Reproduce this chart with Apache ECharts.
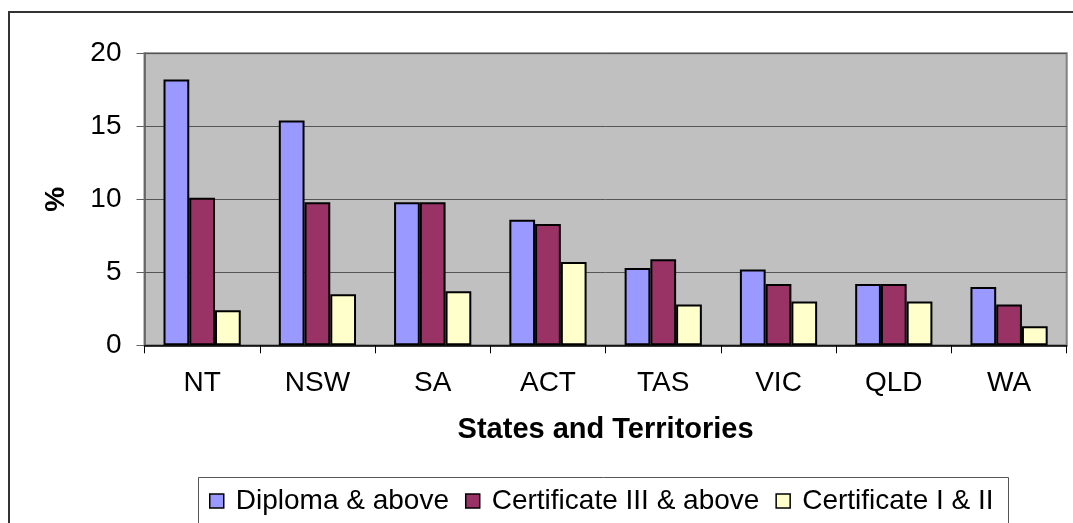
<!DOCTYPE html>
<html>
<head>
<meta charset="utf-8">
<script src="https://cdn.jsdelivr.net/npm/echarts@6/dist/echarts.min.js"></script>
<style>
html,body{margin:0;padding:0;background:#fff;}
#c{width:1073px;height:523px;}
</style>
</head>
<body>
<div id="c"></div>
<script>
const categories = ['NT', 'NSW', 'SA', 'ACT', 'TAS', 'VIC', 'QLD', 'WA'];
const diplomaAbove = [18.2, 15.4, 9.8, 8.6, 5.3, 5.2, 4.2, 4.0];
const certIIIAbove = [10.1, 9.8, 9.8, 8.3, 5.9, 4.2, 4.2, 2.8];
const certIandII = [2.4, 3.5, 3.7, 5.7, 2.8, 3.0, 3.0, 1.3];
const seriesNames = ['Diploma & above', 'Certificate III & above', 'Certificate I & II'];
const yTicks = { min: 0, max: 20, interval: 5 };

const FONT = "'Liberation Sans', Arial, sans-serif";
const chart = echarts.init(document.getElementById('c'), null, { renderer: 'canvas' });

const barStyle = (color) => ({ color: color, borderColor: '#000', borderWidth: 2 });

chart.setOption({
  animation: false,
  backgroundColor: '#fff',
  textStyle: { fontFamily: FONT },
  graphic: [
    { type: 'rect', z: -10, shape: { x: 9, y: 12, width: 1100, height: 600 }, style: { fill: null, stroke: '#333', lineWidth: 2 } },
    { type: 'rect', z: -5, shape: { x: 198.5, y: 477.5, width: 810, height: 100 }, style: { fill: '#fff', stroke: '#555', lineWidth: 1 } }
  ],
  grid: {
    left: 144.5, right: 6.3, top: 53.3, bottom: 177.7,
    show: true, backgroundColor: '#C0C0C0', borderColor: '#808080', borderWidth: 2
  },
  legend: {
    left: 209, top: 487, padding: 0,
    itemWidth: 14, itemHeight: 14, itemGap: 16,
    icon: 'rect',
    itemStyle: { borderColor: '#000', borderWidth: 1.5 },
    textStyle: { fontFamily: FONT, fontSize: 28, color: '#000', padding: [0, 0, 0, 7] },
    data: seriesNames
  },
  xAxis: {
    type: 'category',
    data: categories,
    name: 'States and Territories',
    nameLocation: 'middle',
    nameGap: 70,
    nameTextStyle: { fontFamily: FONT, fontSize: 29, fontWeight: 'bold', color: '#000' },
    axisLine: { lineStyle: { color: '#000', width: 1.5 } },
    axisTick: { show: true, length: 8, lineStyle: { color: '#000' } },
    axisLabel: { fontFamily: FONT, fontSize: 28, color: '#000', margin: 24 }
  },
  yAxis: {
    type: 'value',
    min: yTicks.min, max: yTicks.max, interval: yTicks.interval,
    name: '%',
    nameLocation: 'middle',
    nameRotate: 90,
    nameGap: 74,
    nameTextStyle: { fontFamily: FONT, fontSize: 28, fontWeight: 'bold', color: '#000' },
    axisLine: { show: true, lineStyle: { color: '#606060', width: 1.5 } },
    axisTick: { show: true, length: 8, lineStyle: { color: '#606060' } },
    axisLabel: { fontFamily: FONT, fontSize: 28, color: '#000', margin: 23 },
    splitLine: { show: true, lineStyle: { color: '#555', width: 1 } }
  },
  series: [
    { name: seriesNames[0], type: 'bar', data: diplomaAbove, barGap: '0%', barCategoryGap: '33%', itemStyle: barStyle('#9999FF') },
    { name: seriesNames[1], type: 'bar', data: certIIIAbove, barGap: '0%', barCategoryGap: '33%', itemStyle: barStyle('#993366') },
    { name: seriesNames[2], type: 'bar', data: certIandII, barGap: '0%', barCategoryGap: '33%', itemStyle: barStyle('#FFFFCC') }
  ]
});
</script>
</body>
</html>
